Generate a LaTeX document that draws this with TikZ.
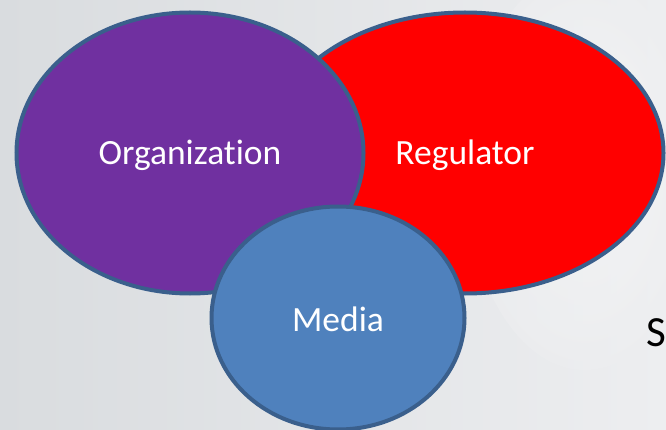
\documentclass[tikz,border=0pt]{standalone}
\usepackage{fontspec}
\setmainfont[Ligatures={NoCommon,TeX}]{Carlito}
\usetikzlibrary{shapes.geometric}
\definecolor{bgleft}{HTML}{D9DCDF}
\definecolor{bgright}{HTML}{EDEEF0}
\definecolor{outl}{HTML}{3A5F8C}
\definecolor{purp}{HTML}{7030A0}
\definecolor{redf}{HTML}{FF0000}
\definecolor{bluef}{HTML}{4F81BD}
\tikzset{
  blob/.style={ellipse, draw=outl, line width=4pt, inner sep=0pt},
  lbl/.style={text=white, font=\fontsize{35.5}{40}\selectfont}
}
\begin{document}
\begin{tikzpicture}[x=1pt,y=-1pt]
\useasboundingbox (0,0) rectangle (666,430);
\shade[left color=bgleft, right color=bgright] (0,0) rectangle (666,430);
\shade[inner color=white!60!bgright, outer color=bgright, opacity=0.6] (585,170) ellipse [x radius=120, y radius=200];
\node[blob, fill=redf, minimum width=397pt, minimum height=281pt] (reg) at (465,153) {};
\node[blob, fill=purp, minimum width=347pt, minimum height=281pt] (org) at (190,153) {};
\node[blob, fill=bluef, minimum width=253pt, minimum height=223pt] (med) at (338,318) {};
\node[lbl] (torg) at (190,155) {Organization};
\node[lbl] (treg) at (465,155) {Regulator};
\node[lbl] (tmed) at (338,319) {Media};
\node[anchor=west, inner sep=0pt, text=black, font=\fontsize{43}{48}\selectfont] (s) at (646,333) {S};
\end{tikzpicture}
\end{document}
